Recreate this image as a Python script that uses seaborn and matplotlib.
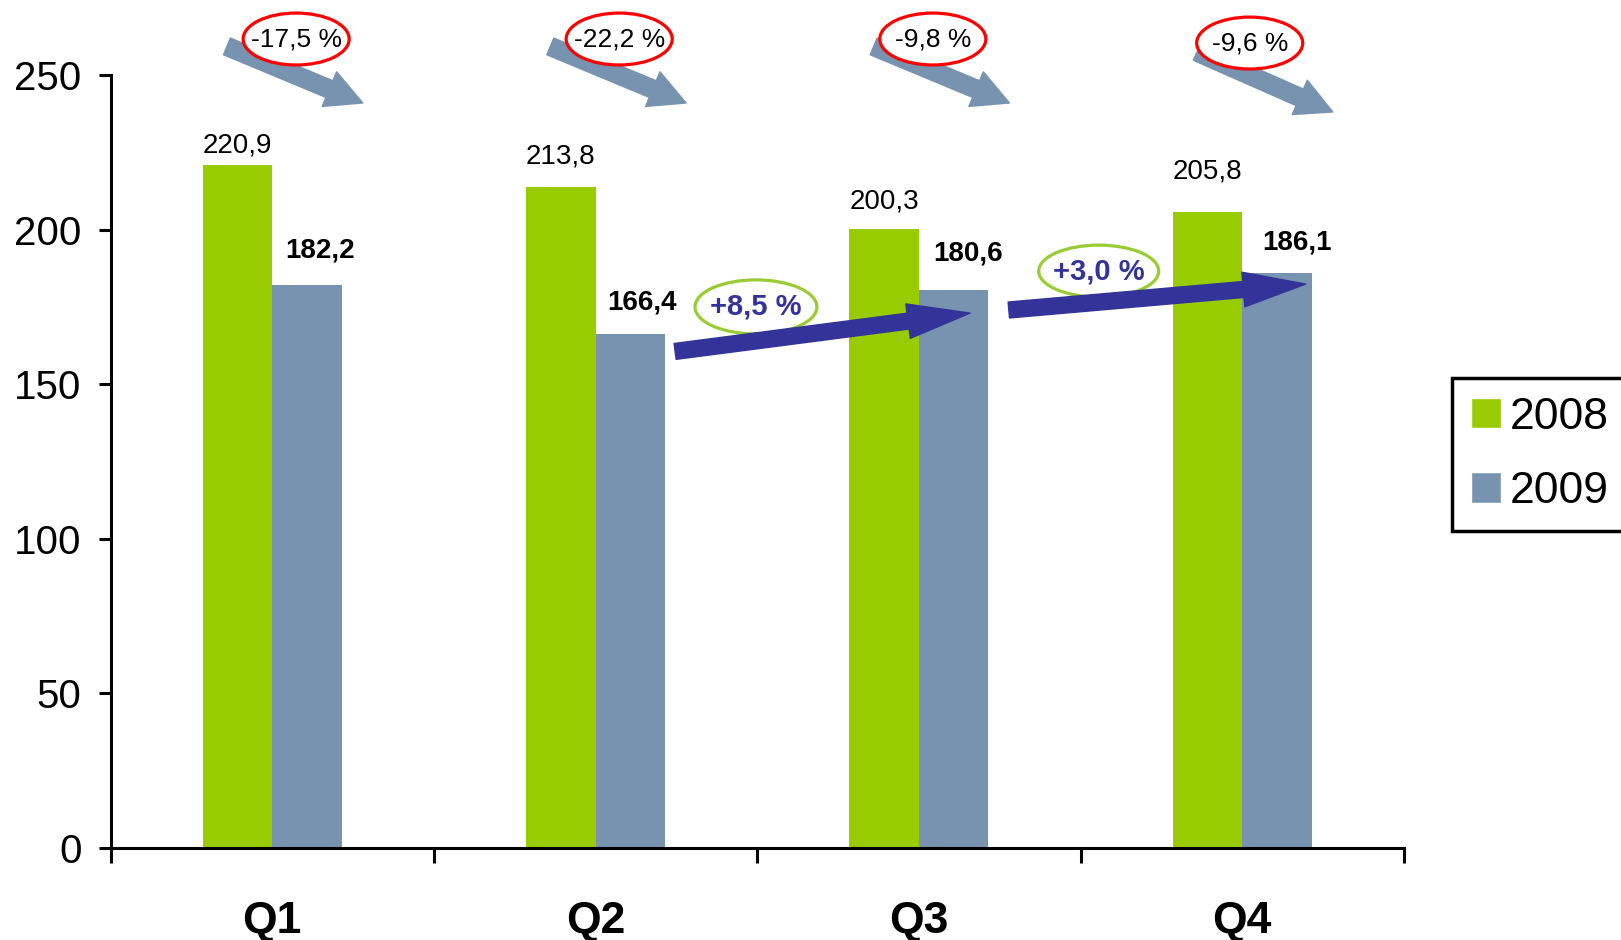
#BLOCO 01 - Dados
import pandas as pd
import matplotlib
matplotlib.use("Agg")
import matplotlib.pyplot as plt
from matplotlib.patches import Ellipse, Patch
import seaborn as sns

# valores
trimestres = ["Q1", "Q2", "Q3", "Q4"]
anos = ["2008", "2009"]
valores_2008 = [220.9, 213.8, 200.3, 205.8]
valores_2009 = [182.2, 166.4, 180.6, 186.1]
var_anual = ["-17,5 %", "-22,2 %", "-9,8 %", "-9,6 %"]
var_trim = ["+8,5 %", "+3,0 %"]

df = pd.DataFrame({
    "trimestre": trimestres * 2,
    "ano": [anos[0]] * 4 + [anos[1]] * 4,
    "valor": valores_2008 + valores_2009,
})

VERDE = "#99CC00"
AZUL = "#7893AF"
MARINHO = "#333399"

#=================================================#
#BLOCO 02 - Gráfico de barras
sns.set_theme(style="white")
plt.rcParams["font.family"] = ["Liberation Sans", "DejaVu Sans"]
plt.rcParams["text.color"] = "black"
plt.rcParams["xtick.color"] = "black"
plt.rcParams["ytick.color"] = "black"

fig = plt.figure(figsize=(16.21, 9.40), dpi=100)
ax = fig.add_axes([0.0682, 0.0979, 0.7979, 0.8218])

sns.barplot(data=df, x="trimestre", y="valor", hue="ano", palette=[VERDE, AZUL],
            width=0.43, saturation=1, legend=False, ax=ax, zorder=2, linewidth=0)

ax.set_xlim(-0.5, 3.5)
ax.set_ylim(0, 250)
ax.set_yticks(range(0, 251, 50))
ax.set_xlabel("")
ax.set_ylabel("")
for s in ["top", "right"]:
    ax.spines[s].set_visible(False)
for s in ["left", "bottom"]:
    ax.spines[s].set_linewidth(2.2)
    ax.spines[s].set_color("black")

ax.tick_params(axis="y", left=True, direction="out", length=9, width=2.2,
               labelsize=29, pad=12, colors="black")
ax.set_xticks([-0.5, 0.5, 1.5, 2.5, 3.5])
ax.set_xticklabels([])
ax.tick_params(axis="x", which="major", bottom=True, direction="out",
               length=11, width=2.2, color="black")
ax.set_xticks(range(4), minor=True)
ax.set_xticklabels(trimestres, minor=True, fontsize=32, fontweight="bold", color="black")
ax.tick_params(axis="x", which="minor", bottom=True, length=0, pad=38)

#=================================================#
#BLOCO 03 - Rótulos dos valores
desl = 0.1075
gap_08 = [20, 31, 28, 41]   # px acima da barra
gap_09 = [34, 31, 36, 30]
dx_09 = [13, 12, 14, 20]
for i in range(4):
    ax.annotate(f"{valores_2008[i]:.1f}".replace(".", ","),
                xy=(i - desl, valores_2008[i]), xytext=(0, gap_08[i] * 0.72),
                textcoords="offset points", ha="center", va="center", fontsize=20,
                color="black")
    ax.annotate(f"{valores_2009[i]:.1f}".replace(".", ","),
                xy=(i + desl, valores_2009[i]), xytext=(dx_09[i] * 0.72, gap_09[i] * 0.72),
                textcoords="offset points", ha="center", va="center",
                fontsize=20, fontweight="bold", color="black")

#=================================================#
#BLOCO 04 - Setas e elipses
# setas cinzas (variação anual)
for i in range(4):
    y0, y1, ye = (259.4, 241.1, 261.8) if i < 3 else (257.6, 238.2, 260.5)
    ax.annotate("", xy=(i + 0.28, y1), xytext=(i - 0.14, y0), annotation_clip=False,
                arrowprops=dict(arrowstyle="simple,head_length=2.6,head_width=2.7,tail_width=1.3",
                                mutation_scale=10, color=AZUL, shrinkA=0, shrinkB=0),
                zorder=4)
    ex = [0.074, 0.073, 0.043, 0.023][i]
    ax.add_patch(Ellipse((i + ex, ye), 0.328, 16.8, facecolor="white", edgecolor="red",
                         linewidth=2.3, clip_on=False, zorder=5))
    ax.text(i + ex, ye, var_anual[i], ha="center", va="center", fontsize=19, zorder=6,
            clip_on=False, color="black")

# setas azuis (variação trimestral)
setas = [((1.246, 160.7), (2.158, 173.1)), ((2.278, 174.1), (3.196, 182.5))]
elipses = [(1.496, 175.1, 0.377, 17.5), (2.556, 186.7, 0.371, 16.8)]
for (a, b), (cx, cy, w, h), txt in zip(setas, elipses, var_trim):
    ax.add_patch(Ellipse((cx, cy), w, h, facecolor="white", edgecolor="#99CC33",
                         linewidth=2.3, zorder=4))
    ax.text(cx, cy, txt, ha="center", va="center", fontsize=21, fontweight="bold",
            color=MARINHO, zorder=6)
    ax.annotate("", xy=b, xytext=a,
                arrowprops=dict(arrowstyle="simple,head_length=4.5,head_width=2.5,tail_width=1.15",
                                mutation_scale=10, color=MARINHO, shrinkA=0, shrinkB=0),
                zorder=5)

#=================================================#
#BLOCO 05 - Legenda
handles = [Patch(facecolor=VERDE), Patch(facecolor=AZUL)]
leg = ax.legend(handles, anos, loc="upper left", bbox_to_anchor=(0.8957, 0.598),
                bbox_transform=fig.transFigure, fontsize=32, frameon=True, fancybox=False,
                edgecolor="black", framealpha=1, handlelength=0.68, handleheight=0.68,
                handletextpad=0.2, labelspacing=0.75, borderpad=0.42, borderaxespad=0)
leg.get_frame().set_linewidth(2.5)
for t in leg.get_texts():
    t.set_color("black")

fig.savefig("out.png", dpi=100)
